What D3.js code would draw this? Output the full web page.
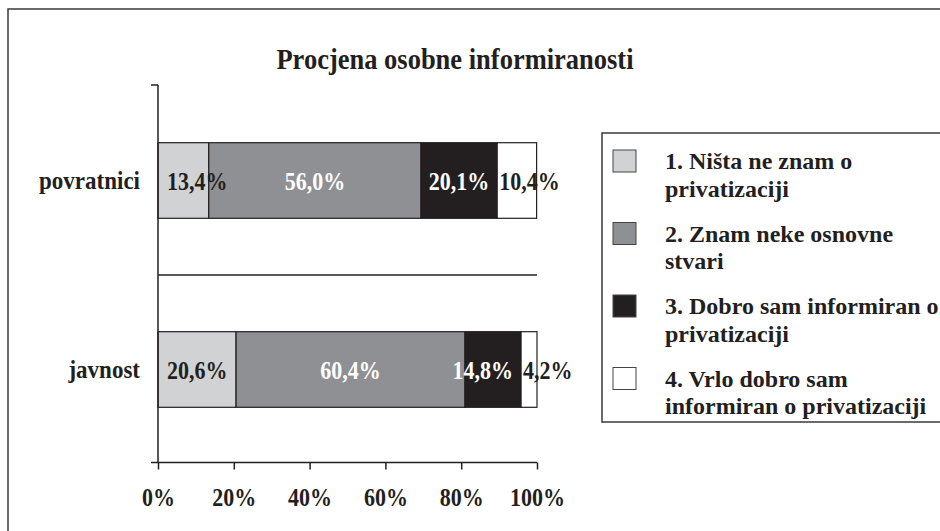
<!DOCTYPE html>
<html>
<head>
<meta charset="utf-8">
<script src="https://cdn.jsdelivr.net/npm/d3@7/dist/d3.min.js"></script>
<style>
  html, body { margin: 0; padding: 0; background: #fff; }
  svg { display: block; }
  svg text { font-family: "Liberation Serif", "Times New Roman", serif; font-weight: bold; }
</style>
</head>
<body>
<svg id="chart" width="940" height="531"></svg>
<script>
const title = "Procjena osobne informiranosti";
const categories = ["povratnici", "javnost"];
const seriesNames = [
  ["1. Ništa ne znam o", "privatizaciji"],
  ["2. Znam neke osnovne", "stvari"],
  ["3. Dobro sam informiran o", "privatizaciji"],
  ["4. Vrlo dobro sam", "informiran o privatizaciji"]
];
const s1 = [13.4, 20.6];
const s2 = [56.0, 60.4];
const s3 = [20.1, 14.8];
const s4 = [10.4, 4.2];
const seriesValues = [s1, s2, s3, s4];
const tickValues = [0, 20, 40, 60, 80, 100];
const colors = ["#d1d2d4", "#8f9093", "#231f20", "#ffffff"];
const labelColors = ["#231f20", "#ffffff", "#ffffff", "#231f20"];
const SY = 1.14; // vertical stretch of the original glyphs

const svg = d3.select("#chart");
const place = (sel, px, py, sy = SY) => sel.attr("x", 0).attr("y", 0)
  .attr("transform", `translate(${px},${py}) scale(1,${sy})`);

// outer frame
svg.append("rect").attr("x", 8).attr("y", 9).attr("width", 960).attr("height", 560)
  .attr("fill", "none").attr("stroke", "#3a3a3a").attr("stroke-width", 1.5);

place(svg.append("text").attr("text-anchor", "middle")
  .attr("font-size", 26.5).attr("fill", "#231f20").text(title), 455, 69);

const x = d3.scaleLinear().domain([0, 100]).range([158, 537]);
const y = d3.scaleBand().domain(categories).range([86, 464]).paddingInner(0.6).paddingOuter(0.3);

const rows = categories.map((c, i) => {
  const r = { cat: c };
  seriesValues.forEach((s, k) => r["s" + k] = s[i]);
  return r;
});
const keys = seriesValues.map((_, k) => "s" + k);
const stacked = d3.stack().keys(keys)(rows);

const g = svg.append("g");
stacked.forEach((layer, k) => {
  g.selectAll(null).data(layer).enter().append("rect")
    .attr("x", d => x(d[0])).attr("width", d => x(d[1]) - x(d[0]))
    .attr("y", d => y(d.data.cat)).attr("height", y.bandwidth())
    .attr("fill", colors[k]).attr("stroke", "#231f20").attr("stroke-width", 1.2);
});

// labels, placed per row, last to first so overlaps push left
categories.forEach((c, i) => {
  let nextStart = Infinity;
  for (let k = stacked.length - 1; k >= 0; k--) {
    const d = stacked[k][i];
    const txt = d3.format(".1f")(d[1] - d[0]).replace(".", ",") + "%";
    const t = g.append("text").attr("font-size", 22).attr("fill", labelColors[k])
      .attr("text-anchor", "middle").text(txt);
    const w = t.node().getComputedTextLength();
    let cx = (x(d[0]) + x(d[1])) / 2;
    if (k === 0) cx = Math.max(cx, x(d[0]) + w / 2 + 9);
    if (k === 3) cx = Math.max(cx, x(d[0]) + w / 2 + 2);
    cx = Math.min(cx, nextStart - w / 2 - 10);
    place(t, cx, y(c) + y.bandwidth() / 2 + 9);
    nextStart = cx - w / 2;
  }
});

// y axis
svg.append("line").attr("x1", 158).attr("x2", 158).attr("y1", 85).attr("y2", 463)
  .attr("stroke", "#231f20").attr("stroke-width", 1.5);
svg.append("line").attr("x1", 151).attr("x2", 158).attr("y1", 85).attr("y2", 85)
  .attr("stroke", "#231f20").attr("stroke-width", 1.5);
// category separator
const sepY = (y(categories[0]) + y.bandwidth() + y(categories[1])) / 2;
svg.append("line").attr("x1", 158).attr("x2", 537).attr("y1", sepY).attr("y2", sepY)
  .attr("stroke", "#231f20").attr("stroke-width", 1.5);

categories.forEach(c => {
  place(svg.append("text").attr("text-anchor", "end").attr("font-size", 23)
    .attr("fill", "#231f20").text(c), 140, y(c) + y.bandwidth() / 2 + 8);
});

// x axis
const xAxis = d3.axisBottom(x).tickValues(tickValues).tickSize(7).tickSizeOuter(0)
  .tickFormat(d => d + "%");
const ax = svg.append("g").attr("transform", "translate(0,462.5)").call(xAxis);
ax.attr("font-family", null).attr("font-size", null);
ax.select(".domain").attr("d", "M151,0H537").attr("stroke", "#231f20").attr("stroke-width", 1.5);
ax.selectAll(".tick line").attr("stroke", "#231f20").attr("stroke-width", 1.5);
ax.selectAll(".tick text").attr("font-size", 22).attr("fill", "#231f20").attr("dy", 0)
  .attr("y", 0).attr("transform", `translate(0,43) scale(1,${SY})`);

// legend
svg.append("rect").attr("x", 602).attr("y", 133).attr("width", 350).attr("height", 289)
  .attr("fill", "none").attr("stroke", "#3a3a3a").attr("stroke-width", 1.5);
seriesNames.forEach((lines, k) => {
  const cy = 161 + k * 72.5;
  svg.append("rect").attr("x", 613).attr("y", cy - 11).attr("width", 23).attr("height", 22)
    .attr("fill", colors[k]).attr("stroke", "#444").attr("stroke-width", 1);
  const t = place(svg.append("text").attr("font-size", 24).attr("fill", "#231f20"), 665, cy + 8, 1);
  lines.forEach((ln, j) => t.append("tspan").attr("x", 0).attr("dy", j === 0 ? 0 : 27.5).text(ln));
});
</script>
</body>
</html>
